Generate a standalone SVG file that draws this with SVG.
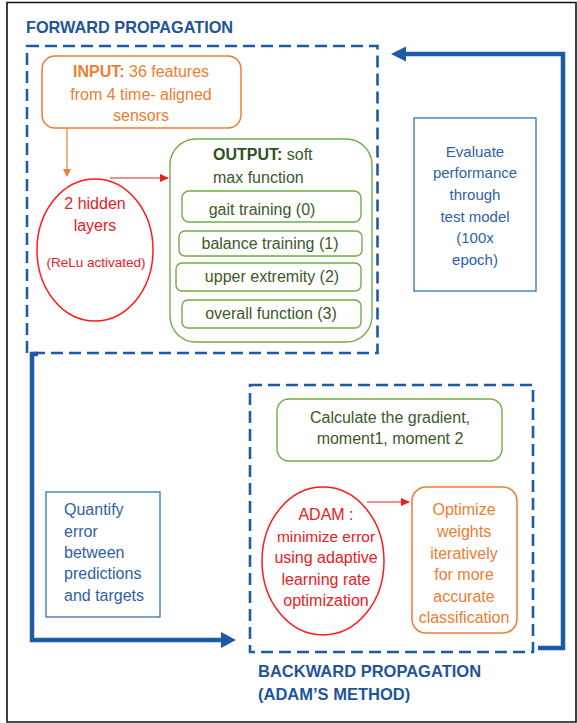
<svg xmlns="http://www.w3.org/2000/svg" width="577" height="723" viewBox="0 0 577 723">
<style>
text{font-family:"Liberation Sans",Arial,sans-serif;font-size:16px}
.c{text-anchor:middle}
.title{font-weight:bold;fill:#1F5597;font-size:16.3px}
.dash{fill:none;stroke:#1F5AA6;stroke-width:2.6;stroke-dasharray:12 6}
.thick{fill:none;stroke:#1F5AA6;stroke-width:4.5}
.blue{fill:#2F5FA5}
.bbox{fill:#fff;stroke:#2E75B6;stroke-width:1.3}
.gbox{fill:#fff;stroke:#70AD47;stroke-width:1.4}
.gt{fill:#3A5A2A}
.ot{fill:#ED7D31}
.rt{fill:#E8201E}
</style>
<defs>
<marker id="ah" markerWidth="8" markerHeight="8" refX="7" refY="4" orient="auto" markerUnits="userSpaceOnUse"><path d="M0,0 L8,4 L0,8 z" fill="#ED7D31"/></marker>
<marker id="rh" markerWidth="9" markerHeight="8" refX="8" refY="4" orient="auto" markerUnits="userSpaceOnUse"><path d="M0,0 L9,4 L0,8 z" fill="#E8201E"/></marker>
</defs>
<rect x="0" y="0" width="577" height="723" fill="#fff"/>
<path d="M7,722 V2.5 H576 V722 Z" fill="none" stroke="#111" stroke-width="1.6"/>

<g id="forward-frame">
<rect class="dash" x="27" y="46" width="350.5" height="307"/>
<text class="title" x="26" y="33">FORWARD PROPAGATION</text>
</g>
<g id="backward-frame">
<rect class="dash" x="250" y="385" width="283" height="267"/>
<text class="title" x="258" y="677" style="font-size:16.5px">BACKWARD PROPAGATION</text>
<text class="title" x="258" y="700" style="font-size:16.5px">(ADAM’S METHOD)</text>
</g>

<g id="input">
<rect x="42" y="56" width="199" height="72" rx="13" fill="#fff" stroke="#ED7D31" stroke-width="1.5"/>
<text class="c ot" x="141" y="77"><tspan font-weight="bold">INPUT:</tspan> 36 features</text>
<text class="c ot" x="141" y="100">from 4 time- aligned</text>
<text class="c ot" x="141" y="121">sensors</text>
</g>

<g id="hidden">
<ellipse cx="95" cy="250" rx="58" ry="71" fill="#fff" stroke="#FF1A1A" stroke-width="1.5"/>
<text class="c rt" x="95" y="209">2 hidden</text>
<text class="c rt" x="95" y="231">layers</text>
<text class="c rt" x="96" y="267" style="font-size:13.5px">(ReLu activated)</text>
</g>

<g id="output">
<rect class="gbox" x="170" y="139" width="202" height="203" rx="26"/>
<text x="213" y="160" class="gt"><tspan font-weight="bold" fill="#2E4F1E">OUTPUT:</tspan> soft</text>
<text x="213" y="183" class="gt">max function</text>
<rect class="gbox" x="182" y="191" width="179" height="31" rx="7"/>
<text class="c gt" x="262" y="215">gait training (0)</text>
<rect class="gbox" x="179" y="231" width="183" height="25" rx="6"/>
<text class="c gt" x="270" y="249">balance training (1)</text>
<rect class="gbox" x="176" y="263" width="185" height="28" rx="6"/>
<text class="c gt" x="272" y="282">upper extremity (2)</text>
<rect class="gbox" x="182" y="300" width="179" height="28" rx="6"/>
<text class="c gt" x="271" y="319">overall function (3)</text>
</g>

<g id="evaluate">
<rect class="bbox" x="414" y="118" width="122" height="173"/>
<text class="c blue" x="475" y="157" style="font-size:15px">Evaluate</text>
<text class="c blue" x="475" y="178" style="font-size:15px">performance</text>
<text class="c blue" x="475" y="200" style="font-size:15px">through</text>
<text class="c blue" x="475" y="222" style="font-size:15px">test model</text>
<text class="c blue" x="475" y="243" style="font-size:15px">(100x</text>
<text class="c blue" x="475" y="265" style="font-size:15px">epoch)</text>
</g>

<g id="quantify">
<rect class="bbox" x="46" y="492" width="114" height="125"/>
<text class="blue" x="64" y="515">Quantify</text>
<text class="blue" x="64" y="537">error</text>
<text class="blue" x="64" y="558">between</text>
<text class="blue" x="64" y="579">predictions</text>
<text class="blue" x="64" y="601">and targets</text>
</g>

<g id="calculate">
<rect class="gbox" x="277" y="399" width="225" height="62" rx="12"/>
<text class="c gt" x="390" y="423">Calculate the gradient,</text>
<text class="c gt" x="390" y="444">moment1, moment 2</text>
</g>

<g id="adam">
<ellipse cx="323" cy="561" rx="61" ry="74" fill="#fff" stroke="#FF1A1A" stroke-width="1.5"/>
<text class="c rt" x="326" y="520">ADAM :</text>
<text class="c rt" x="326" y="542" style="font-size:15.5px">minimize error</text>
<text class="c rt" x="326" y="563">using adaptive</text>
<text class="c rt" x="326" y="585">learning rate</text>
<text class="c rt" x="326" y="606">optimization</text>
</g>

<g id="optimize">
<rect x="412" y="487" width="105" height="146" rx="14" fill="#fff" stroke="#ED7D31" stroke-width="1.5"/>
<text class="c ot" x="464" y="515">Optimize</text>
<text class="c ot" x="464" y="537">weights</text>
<text class="c ot" x="464" y="559">iteratively</text>
<text class="c ot" x="464" y="580">for more</text>
<text class="c ot" x="464" y="602">accurate</text>
<text class="c ot" x="464" y="623">classification</text>
</g>

<g id="connectors">
<path d="M67,128 V176" fill="none" stroke="#ED7D31" stroke-width="1.2" marker-end="url(#ah)"/>
<path d="M110,178 H168" fill="none" stroke="#E8201E" stroke-width="1.2" marker-end="url(#rh)"/>
<path d="M367,502 H409" fill="none" stroke="#E8201E" stroke-width="1.2" marker-end="url(#rh)"/>
<path class="thick" d="M38,354 H32 V640 H222"/>
<path d="M221,632 L236,640 L221,648 Z" fill="#1F5AA6"/>
<path class="thick" d="M538,648 H563 V54 H405"/>
<path d="M406,46.5 L391,54 L406,61.5 Z" fill="#1F5AA6"/>
</g>
</svg>
